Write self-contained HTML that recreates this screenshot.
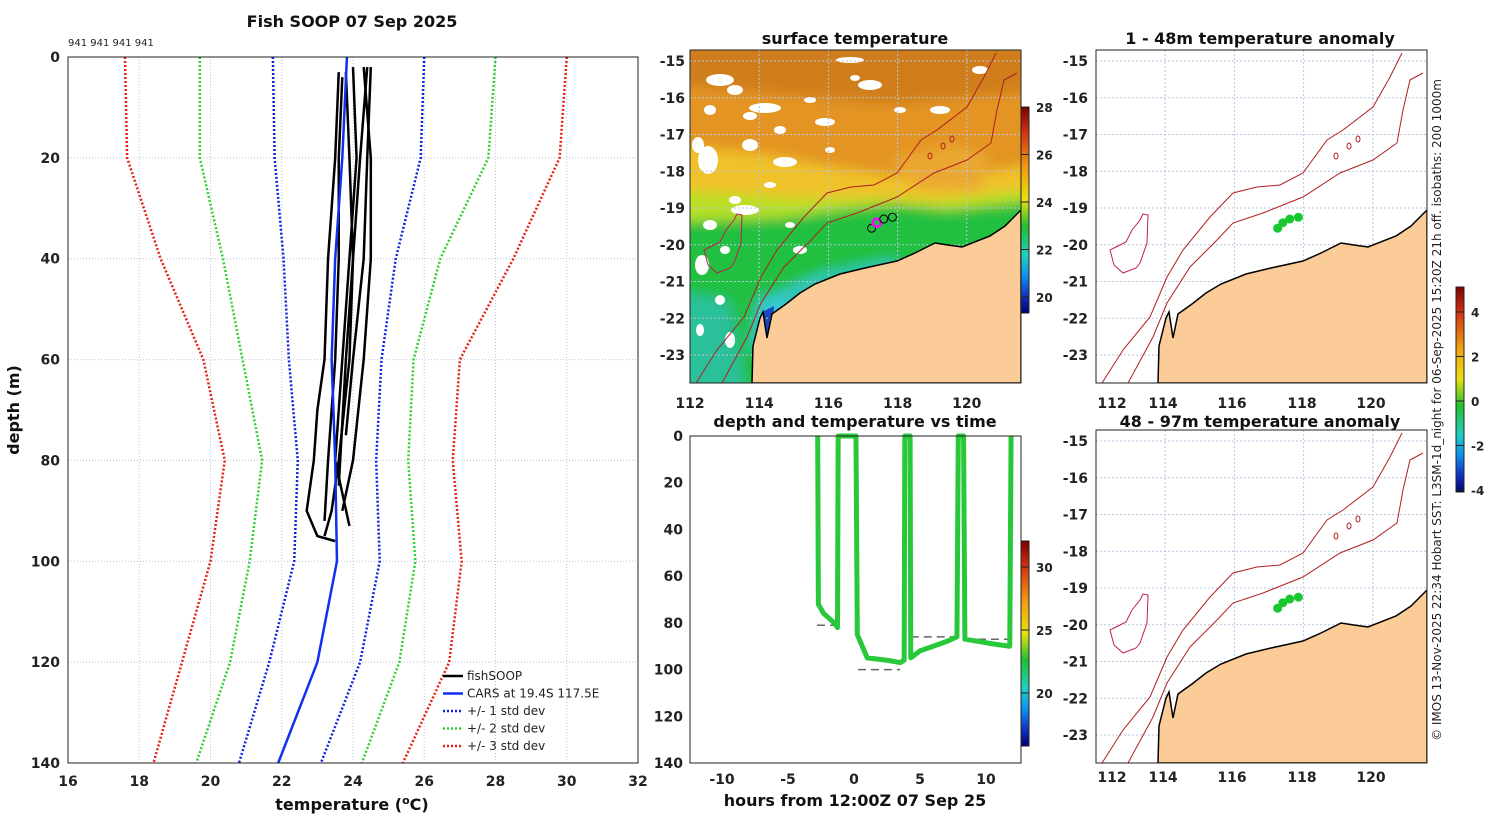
<!DOCTYPE html>
<html><head><meta charset="utf-8"><title>Fish SOOP 07 Sep 2025</title>
<style>
html,body{margin:0;padding:0;background:#fff;}
svg{display:block;font-family:"DejaVu Sans","Liberation Sans",sans-serif;}
.tk{font-size:14px;font-weight:bold;fill:#222;}
.ti{font-size:16px;font-weight:bold;fill:#111;}
</style></head>
<body>
<svg id="fig" xmlns="http://www.w3.org/2000/svg" width="1500" height="820" viewBox="0 0 1500 820"></svg>
<script>
// ---------- DATA ----------
const depthLevels=[0,20,40,60,80,100,120,140];
const carsMean=[23.83,23.7,23.5,23.4,23.5,23.55,23.0,21.9];
const plus1=[26.0,25.9,25.2,24.8,24.65,24.75,24.2,23.1];
const minus1=[21.75,21.8,22.05,22.2,22.45,22.35,21.65,20.8];
const plus2=[28.0,27.8,26.45,25.7,25.55,25.75,25.3,24.25];
const minus2=[19.7,19.7,20.35,20.9,21.45,21.1,20.55,19.6];
const plus3=[30.0,29.8,28.5,27.0,26.8,27.05,26.7,25.4];
const minus3=[17.6,17.66,18.6,19.8,20.4,20.0,19.2,18.4];
const fishDepths=[[2,20,40,60,80,90],[2,20,40,60,75],[3,20,40,60,70,80,90,95,96],[3,20,40,60,80,90,95],[2,20,40,60,80,93],[4,20,40,60,80,92],[2,20,40,60,85]];
const fishTemps=[[24.3,24.5,24.5,24.3,24.0,23.7],[24.5,24.4,24.3,24.0,23.8],[23.6,23.5,23.3,23.2,23.0,22.9,22.7,23.0,23.5],[23.8,23.9,24.0,23.9,23.6,23.4,23.2],[24.0,24.1,23.9,23.7,23.5,23.9],[23.7,23.6,23.6,23.5,23.3,23.2],[24.4,24.2,24.0,23.8,23.6]];
const tempTicks=[16,18,20,22,24,26,28,30,32];
const depthTicks=[0,20,40,60,80,100,120,140];
const timeHours=[-2.75,-2.7,-2.3,-1.5,-1.25,-1.2,0.15,0.25,1,2.5,3.5,3.8,3.85,4.25,4.3,5,6,7,7.8,7.9,8.3,8.4,9.5,10.5,11.8,11.9];
const timeDepths=[0,72,76,80,82,0,0,85,95,96,97,96,0,0,95,92,90,88,86,0,0,87,88,89,90,0];
const timeTicks=[-10,-5,0,5,10];
const latTicks=[-15,-16,-17,-18,-19,-20,-21,-22,-23];
const lonTicks=[112,114,116,118,120];
const fishLon=[117.25,117.4,117.6,117.85];
const fishLat=[-19.55,-19.4,-19.3,-19.25];

const S=document.getElementById('fig');
const NS='http://www.w3.org/2000/svg';
function el(tag,parent){const e=document.createElementNS(NS,tag);(parent||S).appendChild(e);return e;}
function at(e,o){for(const k in o)e.setAttribute(k,o[k]);return e;}
function txt(parent,x,y,s,cls,anchor){const t=el('text',parent);at(t,{x:x,y:y,class:cls||'tk','text-anchor':anchor||'middle'});t.textContent=s;return t;}

// ---------- LEFT PROFILE PLOT ----------
const L={x0:68,x1:638,y0:57,y1:763};
const tx=v=>L.x0+(v-16)/16*(L.x1-L.x0);
const dy=v=>L.y0+v/140*(L.y1-L.y0);
const gp=el('g');


for(const t of tempTicks){ if(t>16&&t<32){const l=el('line',gp);at(l,{x1:tx(t),x2:tx(t),y1:L.y0,y2:L.y1,stroke:'#b8c4e0','stroke-width':1,'stroke-dasharray':'1,2'});}
  const lb=txt(gp,tx(t),786,String(t));}
for(const d of depthTicks){ if(d>0&&d<140){const l=el('line',gp);at(l,{x1:L.x0,x2:L.x1,y1:dy(d),y2:dy(d),stroke:'#b8c4e0','stroke-width':1,'stroke-dasharray':'1,2'});}
  const lb=txt(gp,60,dy(d)+5,String(d),'tk','end');}
function prof(temps,deps,color,w,dash,name){const p=el('polyline',gp);at(p,{points:temps.map((t,i)=>tx(t)+','+dy(deps[i])).join(' '),fill:'none',stroke:color,'stroke-width':w});if(dash)p.setAttribute('stroke-dasharray',dash);
  }
prof(plus3,depthLevels,'#e82010',2.5,'2,2','plus-3-std-line');
prof(minus3,depthLevels,'#e82010',2.5,'2,2','minus-3-std-line');
prof(plus2,depthLevels,'#30d030',2.5,'2,2','plus-2-std-line');
prof(minus2,depthLevels,'#30d030',2.5,'2,2','minus-2-std-line');
prof(plus1,depthLevels,'#1020e0',2.5,'2,2','plus-1-std-line');
prof(minus1,depthLevels,'#1020e0',2.5,'2,2','minus-1-std-line');
for(let i=0;i<fishTemps.length;i++)prof(fishTemps[i],fishDepths[i],'#000',2.5,null,'fishsoop-profile');
prof(carsMean,depthLevels,'#1030f0',2.5,null,'cars-mean-line');
const fr=el('rect',gp);at(fr,{x:L.x0,y:L.y0,width:L.x1-L.x0,height:L.y1-L.y0,fill:'none',stroke:'#222','stroke-width':1});

let t1=txt(gp,352,27,'Fish SOOP 07 Sep 2025','ti');
let t2=txt(gp,68,46,'941 941 941 941','tk','start');t2.style.fontSize='10px';t2.style.fontWeight='normal';
let xl=txt(gp,352,810,'','ti');xl.innerHTML='temperature (<tspan dy="-6" font-size="11">o</tspan><tspan dy="6">C)</tspan>';
let yl=txt(gp,0,0,'depth (m)','ti');at(yl,{transform:'translate(19,410) rotate(-90)'});
// legend
const legItems=[['fishSOOP','#000',null],['CARS at 19.4S 117.5E','#1030f0',null],['+/- 1 std dev','#1020e0','2,2'],['+/- 2 std dev','#30d030','2,2'],['+/- 3 std dev','#e82010','2,2']];
legItems.forEach((it,i)=>{const g=el('g',gp);
  const y=676+i*17.5;const l=el('line',g);at(l,{x1:443,x2:463,y1:y,y2:y,stroke:it[1],'stroke-width':2.5});if(it[2])l.setAttribute('stroke-dasharray',it[2]);
  const t=txt(g,467,y+4,it[0],'tk','start');t.style.fontSize='12px';t.style.fontWeight='normal';});

// ---------- MAPS ----------
const coast=[[62,333],[63,296],[70,268],[73,262],[77,288],[82,264],[96,254],[110,243],[125,234],[150,224],[175,218],[207,211],[225,203],[245,193],[258,195],[272,197],[300,186],[315,176],[331,160],[331,333]];
const iso1=[[6,333],[27,300],[54,267],[71,227],[87,200],[114,167],[137,143],[161,137],[184,135],[207,123],[231,90],[247,80],[277,57],[294,27],[306,3]];
const iso2=[[32,333],[57,287],[71,253],[94,217],[121,190],[137,173],[167,163],[207,147],[244,123],[277,110],[301,93],[307,60],[314,30],[327,23]];
const island=[[14,200],[18,215],[27,223],[40,218],[44,213],[51,193],[52,165],[47,164],[44,170],[36,180],[30,192],[20,197]];
const pts=a=>a.map(p=>p[0]+','+p[1]).join(' ');
const MW=331,MH=333;
const lonX=lon=>(lon-112)*34.6;
const latY=lat=>11+(-15-lat)*36.75;

const defs=el('defs');
const bf=el('filter',defs);at(bf,{id:'blur',x:'-10%',y:'-10%',width:'120%',height:'120%'});
const fg=el('feGaussianBlur',bf);at(fg,{stdDeviation:6});

function drawMap(ox,oy,name,sst){
  const g=el('g');at(g,{transform:`translate(${ox},${oy})`});
  
  const cp=el('clipPath',g);cp.id='cp'+name;const cr=el('rect',cp);at(cr,{x:0,y:0,width:MW,height:MH});
  const gi=el('g',g);gi.setAttribute('clip-path',`url(#cp${name})`);
  if(sst){
    const gb=el('g',gi);gb.setAttribute('filter','url(#blur)');
    const lay=[['rect',{x:-20,y:-20,width:MW+40,height:MH+40,fill:'#e39422'}],
      ['polygon',{points:'-20,-20 351,-20 351,40 200,55 100,45 -20,35',fill:'#d07e1c'}],
      ['polygon',{points:'-20,95 80,105 150,118 250,132 351,112 351,353 -20,353',fill:'#f0c22a'}],
      ['polygon',{points:'-20,140 100,148 180,148 250,150 351,138 351,353 -20,353',fill:'#b8e028'}],
      ['polygon',{points:'-20,172 90,168 150,160 200,154 260,160 351,150 351,353 -20,353',fill:'#24c040'}],
      ['polygon',{points:'-20,240 40,250 58,353 -20,353',fill:'#2cc09a'}],
      ['polygon',{points:'60,300 68,250 100,238 130,224 160,218 205,209 205,218 140,230 100,252 80,300',fill:'#38c8d0'}],
      ['polygon',{points:'200,110 260,95 300,105 290,140 230,140',fill:'#eaa830'}]];
    for(const l of lay){const e=el(l[0],gb);at(e,l[1]);}
    const bt=el('polygon',gi);at(bt,{points:'72,262 84,256 82,292 74,292',fill:'#1848c0'});
    const wb=[[30,30,14,6],[45,40,8,5],[75,58,16,5],[60,66,7,4],[18,110,10,14],[8,95,6,8],[95,112,12,5],[55,160,14,5],[45,150,6,4],[12,215,7,10],[180,35,12,5],[165,28,5,3],[250,60,10,4],[135,72,10,4],[60,95,8,6],[40,290,5,8],[110,200,7,4],[20,175,7,5],[160,10,14,3],[290,20,8,4],[90,80,6,4],[120,50,6,3],[20,60,6,5],[80,135,6,3],[30,250,5,5],[10,280,4,6],[210,60,6,3],[140,100,5,3],[100,175,5,3],[35,200,5,4]];
    for(const w of wb){const e=el('ellipse',gi);at(e,{cx:w[0],cy:w[1],rx:w[2],ry:w[3],fill:'#fff'});}
  }
  // grid
  for(const lon of lonTicks){if(lon>112){const l=el('line',gi);at(l,{x1:lonX(lon),x2:lonX(lon),y1:0,y2:MH,stroke:'#b8c4e0','stroke-dasharray':'2,2'});}}
  for(const lat of latTicks){const l=el('line',gi);at(l,{x1:0,x2:MW,y1:latY(lat),y2:latY(lat),stroke:'#b8c4e0','stroke-dasharray':'2,2'});}
  const land=el('polygon',gi);at(land,{points:pts(coast),fill:'#fbcb98',stroke:'#000','stroke-width':1.5});
  
  for(const iso of [iso1,iso2]){const p=el('polyline',gi);at(p,{points:pts(iso),fill:'none',stroke:'#b02020','stroke-width':1});
    }
  const isl=el('polygon',gi);at(isl,{points:pts(island),fill:'none',stroke:'#c02050','stroke-width':1});
  
  for(const e of [[240,106],[253,96],[262,89]]){const o=el('ellipse',gi);at(o,{cx:e[0],cy:e[1],rx:2,ry:3,fill:'none',stroke:'#b02020'});}
  const fb=el('rect',g);at(fb,{x:0,y:0,width:MW,height:MH,fill:'none',stroke:'#222'});
  return g;
}
function mapTicks(g,leftLab,botY,lonPos){
  for(const lat of latTicks){const t=txt(g,leftLab,latY(lat)+5,String(lat),'tk','end');}
  lonTicks.forEach((lon,i)=>{const t=txt(g,lonPos[i],botY,String(lon));});
}
// middle SST map
const m1=drawMap(690,50,'sst-map',true);
mapTicks(m1,-5,358,lonTicks.map(lonX));
fishLon.forEach((lon,i)=>{const c=el('circle',m1);at(c,{cx:lonX(lon),cy:latY(fishLat[i]),r:4,fill:'none',stroke:i==1?'#ff00ff':'#000','stroke-width':i==1?2.5:1});
  });
let mt=txt(S,855,44,'surface temperature','ti');
// right anomaly maps
const rlon=[16,67,136,206,275];
const m2=drawMap(1096,50,'anomaly-map-shallow',false);
mapTicks(m2,-8,358,rlon);
const m3=drawMap(1096,430,'anomaly-map-deep',false);
mapTicks(m3,-8,352,rlon);
for(const m of [m2,m3]){fishLon.forEach((lon,i)=>{const c=el('circle',m);at(c,{cx:lonX(lon),cy:latY(fishLat[i]),r:4.5,fill:'#18c830'});
  });}
let a1=txt(S,1260,44,'1 - 48m temperature anomaly','ti');
let a2=txt(S,1260,427,'48 - 97m temperature anomaly','ti');

// ---------- COLORBARS ----------
const jet=[['0','#7a0000'],['0.12','#d03010'],['0.3','#f0a010'],['0.45','#e8e010'],['0.58','#20c030'],['0.72','#20d0c0'],['0.82','#1090f0'],['0.92','#1030c0'],['1','#000070']];
const lg=el('linearGradient',defs);at(lg,{id:'jet',x1:0,y1:0,x2:0,y2:1});
for(const s of jet){const st=el('stop',lg);at(st,{offset:s[0],'stop-color':s[1]});}
function cbar(x,y,h,ticks,yf,name){const g=el('g');
  const r=el('rect',g);at(r,{x:x,y:y,width:8,height:h,fill:'url(#jet)',stroke:'#222'});
  for(const t of ticks){const yy=yf(t);const l=el('line',g);at(l,{x1:x,x2:x+8,y1:yy,y2:yy,stroke:'#222'});const lb=txt(g,x+15,yy+5,String(t),'tk','start');lb.style.fontSize='12px';}}
cbar(1021,107,206,[20,22,24,26,28],v=>297-(v-20)*23.75,'sst-colorbar');
cbar(1021,541,205,[20,25,30],v=>693-(v-20)*12.6,'time-colorbar');
cbar(1456,287,205,[-4,-2,0,2,4],v=>401-v*22.25,'anomaly-colorbar');

// ---------- TIME PLOT ----------
const T={x0:690,x1:1021,y0:436,y1:763};
const hx=h=>854+h*13.2;
const ty=d=>T.y0+d/140*(T.y1-T.y0);
const gt=el('g');
const dashes=[[-2.8,-1.3,81],[0.3,3.5,100],[4.3,7.8,86],[8.4,11.8,87]];
for(const d of dashes){const l=el('line',gt);at(l,{x1:hx(d[0]),x2:hx(d[1]),y1:ty(d[2]),y2:ty(d[2]),stroke:'#666','stroke-width':1.5,'stroke-dasharray':'8,5'});
  }
const tl=el('polyline',gt);at(tl,{points:timeHours.map((h,i)=>hx(h)+','+ty(timeDepths[i])).join(' '),fill:'none',stroke:'#28c83a','stroke-width':5,'stroke-linejoin':'round'});

const tf=el('rect',gt);at(tf,{x:T.x0,y:T.y0,width:T.x1-T.x0,height:T.y1-T.y0,fill:'none',stroke:'#222'});
for(const d of depthTicks){const t=txt(gt,683,ty(d)+5,String(d),'tk','end');}
for(const h of timeTicks){const t=txt(gt,hx(h),784,String(h));}
let tt=txt(S,855,427,'depth and temperature vs time','ti');
let tx2=txt(S,855,806,'hours from 12:00Z 07 Sep 25','ti');

// credit
let cr=txt(S,0,0,'© IMOS 13-Nov-2025 22:34 Hobart SST: L3SM-1d_night for 06-Sep-2025 15:20Z 21h off. isobaths: 200  1000m','tk','middle');
at(cr,{transform:'translate(1441,410) rotate(-90)'});cr.style.fontSize='12px';cr.style.fontWeight='normal';

</script>
</body></html>
